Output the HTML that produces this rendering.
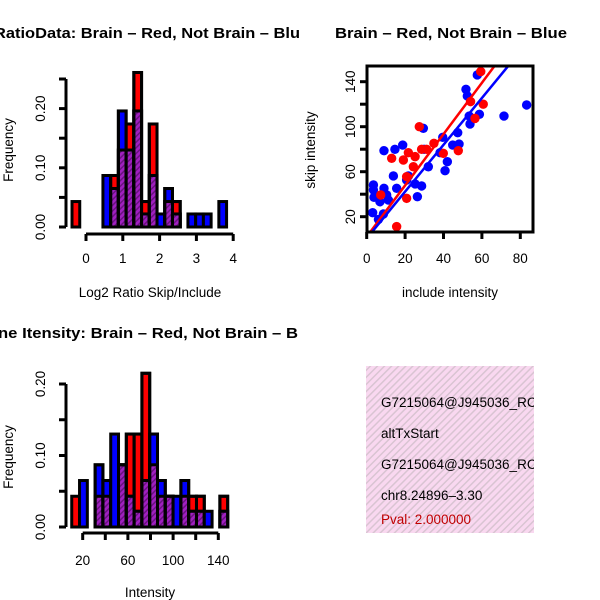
<!DOCTYPE html>
<html><head><meta charset="utf-8"><style>
html,body{margin:0;padding:0;background:#fff;}
svg{display:block;font-family:"Liberation Sans",Arial,sans-serif;}
</style></head><body>
<svg id="c" width="600" height="600" viewBox="0 0 600 600" xmlns="http://www.w3.org/2000/svg">
<defs>
<pattern id="hatch" width="4" height="4" patternUnits="userSpaceOnUse" patternTransform="rotate(45)">
<rect width="4" height="4" fill="#a020c0"/><rect width="1.5" height="4" fill="#6a1280"/>
</pattern>
<pattern id="pink" width="5" height="5" patternUnits="userSpaceOnUse" patternTransform="rotate(45)">
<rect width="5" height="5" fill="#f9d8f0"/><rect width="1.5" height="5" fill="#d9c4d2"/>
</pattern>
<clipPath id="scClip"><rect x="367" y="66" width="166" height="166"/></clipPath>
<clipPath id="boxClip"><rect x="366" y="366" width="168" height="167"/></clipPath>
</defs>
<g id="titles" font-weight="bold" font-size="15">
<text x="-6" y="38" textLength="306" lengthAdjust="spacingAndGlyphs">RatioData: Brain – Red, Not Brain – Blu</text>
<text x="335" y="38" textLength="232" lengthAdjust="spacingAndGlyphs">Brain – Red, Not Brain – Blue</text>
<text x="-2" y="338" textLength="300" lengthAdjust="spacingAndGlyphs">ne Itensity: Brain – Red, Not Brain – B</text>
</g>
<g font-size="13.5">
<text x="150" y="297" text-anchor="middle">Log2 Ratio Skip/Include</text>
<text transform="translate(13,150) rotate(-90)" text-anchor="middle">Frequency</text>
<text x="450" y="297" text-anchor="middle">include intensity</text>
<text transform="translate(315,150) rotate(-90)" text-anchor="middle">skip intensity</text>
<text x="150" y="597" text-anchor="middle">Intensity</text>
<text transform="translate(13,457) rotate(-90)" text-anchor="middle">Frequency</text>
</g>
<g id="h1"></g><g id="h2"></g><g id="sc"></g>
<g clip-path="url(#boxClip)" font-size="13.5">
<rect x="366" y="366" width="168" height="167" fill="url(#pink)"/>
<text x="381" y="407">G7215064@J945036_RC</text>
<text x="381" y="438">altTxStart</text>
<text x="381" y="469">G7215064@J945036_RC</text>
<text x="381" y="500">chr8.24896–3.30</text>
<text x="381" y="524" fill="#c00000">Pval: 2.000000</text>
</g>
</svg>
<script>
// ---- Histogram 1: log2 ratio ----
const ratioBinStart = -0.38;
const ratioBinWidth = 0.21;
const ratioRed  = [0.043,0,0,0,0,0.087,0.13,0.174,0.261,0.043,0.174,0,0.043,0.043,0,0,0,0,0,0];
const ratioBlue = [0,0,0,0,0.087,0.065,0.196,0.13,0.196,0.022,0.087,0.022,0.065,0.022,0,0.022,0.022,0.022,0,0.043];
const ratioXTicks = [0,1,2,3,4];
const ratioYTicks = [0,0.05,0.10,0.15,0.20,0.25];
const ratioYLabels = ["0.00","","0.10","","0.20",""];
// ---- Histogram 2: intensity ----
const intBinStart = 10.3;
const intBinWidth = 6.9;
const intRed  = [0.043,0,0,0.043,0.043,0,0.087,0.13,0.13,0.215,0.087,0.043,0.043,0,0.043,0.043,0.043,0,0,0.043];
const intBlue = [0,0.065,0,0.087,0.065,0.13,0.087,0.043,0.022,0.065,0.13,0.065,0.043,0.043,0.065,0.022,0.022,0.022,0,0.022];
const intXTicks = [20,40,60,80,100,120,140];
const intXLabels = ["20","","60","","100","","140"];
const intYTicks = [0,0.05,0.10,0.15,0.20];
const intYLabels = ["0.00","","0.10","","0.20"];
// ---- Scatter ----
const blueX = [57.6,51.7,52.4,83.3,71.5,58.7,53.4,53.8,47.4,29.5,39.6,44.8,48.1,38.2,29.9,18.75,14.7,9.0,42.0,40.8,32.1,28.6,25.2,21.7,13.9,15.6,9.0,3.5,3.5,3.8,10.4,11.3,6.9,26.4,20.8,3.1,8.7,6.1];
const blueY = [146,133.2,127.3,119.3,109.5,111,109.5,102.4,94.7,98.6,90.6,83.7,84.6,76.9,79.9,83.7,79.9,78.7,68.9,60.9,64.4,47.3,49.1,56.2,56.2,45.2,45.2,48.2,43.8,37.2,39.3,34.8,33.3,37.8,52.6,23.6,22.4,17.6];
const redX = [59.4,60.7,54.1,56.4,27.4,35.0,39.9,47.7,28.6,21.7,25.2,19.1,13.0,24.3,20.8,7.3,20.8,15.6,31.2];
const redY = [149,120,122.3,107.4,100,85.2,76.3,78.7,79.9,76.9,73.4,70.4,71.9,64.4,55.6,39.3,36.3,11.2,79.9];
const redFit = [2.2, 2.28];   // intercept, slope
const blueFit = [0.7, 2.08];
const scXTicks = [0,20,40,60,80];
const scYTicks = [20,40,60,80,100,120,140];
const scYLabels = ["20","","60","","100","","140"];

const NS="http://www.w3.org/2000/svg";
function mk(parent,tag,attrs){const e=document.createElementNS(NS,tag);for(const k in attrs)e.setAttribute(k,attrs[k]);parent.appendChild(e);return e;}

function hist(g, red, blue, x0, w, xs, ys, xTicks, xLabels, yTicks, yLabels, axY, xLabY, yAxX){
  for(let i=0;i<red.length;i++){
    const l=xs(x0+i*w), r=xs(x0+(i+1)*w);
    const rv=red[i], bv=blue[i], mn=Math.min(rv,bv);
    if(rv>0){const e=mk(g,'rect',{x:l,y:ys(rv),width:r-l,height:ys(0)-ys(rv),fill:'#ff0000',stroke:'#000','stroke-width':3});
      
      }
    if(bv>0){const e=mk(g,'rect',{x:l,y:ys(bv),width:r-l,height:ys(0)-ys(bv),fill:'#0000ff',stroke:'#000','stroke-width':3});
      
      }
    if(mn>0){const e=mk(g,'rect',{x:l,y:ys(mn),width:r-l,height:ys(0)-ys(mn),fill:'url(#hatch)',stroke:'#000','stroke-width':3});
      
      }
    if(rv>0&&bv>0){const top=Math.max(rv,bv);const e=mk(g,'rect',{x:l,y:ys(top),width:r-l,height:ys(0)-ys(top),fill:'none',stroke:'#000','stroke-width':3});
      
      }
  }
  const xa=mk(g,'line',{x1:xs(xTicks[0]),x2:xs(xTicks[xTicks.length-1]),y1:axY,y2:axY,stroke:'#000','stroke-width':3});
  
  
  xTicks.forEach((t,i)=>{mk(g,'line',{x1:xs(t),x2:xs(t),y1:axY,y2:axY+7,stroke:'#000','stroke-width':3});
    const tx=mk(g,'text',{x:xs(t),y:xLabY,'text-anchor':'middle','font-size':13.5});tx.textContent=xLabels[i];
    
    });
  const ya=mk(g,'line',{x1:yAxX,x2:yAxX,y1:ys(yTicks[0]),y2:ys(yTicks[yTicks.length-1]),stroke:'#000','stroke-width':3});
  
  
  yTicks.forEach((t,i)=>{mk(g,'line',{x1:yAxX-7,x2:yAxX,y1:ys(t),y2:ys(t),stroke:'#000','stroke-width':3});
    if(yLabels[i]){const tx=mk(g,'text',{transform:`translate(${yAxX-21},${ys(t)}) rotate(-90)`,'text-anchor':'middle','font-size':13.5});tx.textContent=yLabels[i];
    
    }});
}
const g1=document.getElementById('h1');


hist(g1,ratioRed,ratioBlue,ratioBinStart,ratioBinWidth,v=>86+v*36.8,v=>227-v*592,
  ratioXTicks,ratioXTicks.map(String),ratioYTicks,ratioYLabels,234,263,66);
const g2=document.getElementById('h2');


hist(g2,intRed,intBlue,intBinStart,intBinWidth,v=>82.7+(v-20)*1.13,v=>527-v*715,
  intXTicks,intXLabels,intYTicks,intYLabels,533,565,66);

// scatter
const sg=document.getElementById('sc');


const sx=v=>366.7+v*1.92, sy=v=>216.7-(v-20)*1.125;
const cg=mk(sg,'g',{'clip-path':'url(#scClip)'});
blueX.forEach((x,i)=>{const c=mk(cg,'circle',{cx:sx(x),cy:sy(blueY[i]),r:4.7,fill:'#0000ff'});
  
  });
redX.forEach((x,i)=>{const c=mk(cg,'circle',{cx:sx(x),cy:sy(redY[i]),r:4.7,fill:'#ff0000'});
  
  });
[[redFit,'#ff0000','red-fit-line'],[blueFit,'#0000ff','blue-fit-line']].forEach(([f,col,nm])=>{
  const l=mk(cg,'line',{x1:sx(-5),y1:sy(f[0]+f[1]*-5),x2:sx(90),y2:sy(f[0]+f[1]*90),stroke:col,'stroke-width':2.5});
  
  });
const box=mk(sg,'rect',{x:367,y:66,width:166,height:166,fill:'none',stroke:'#000','stroke-width':3});


scXTicks.forEach(t=>{mk(sg,'line',{x1:sx(t),x2:sx(t),y1:232,y2:239,stroke:'#000','stroke-width':3});
  const tx=mk(sg,'text',{x:sx(t),y:263,'text-anchor':'middle','font-size':13.5});tx.textContent=String(t);
  
  });
scYTicks.forEach((t,i)=>{mk(sg,'line',{x1:360,x2:367,y1:sy(t),y2:sy(t),stroke:'#000','stroke-width':3});
  if(scYLabels[i]){const tx=mk(sg,'text',{transform:`translate(355,${sy(t)}) rotate(-90)`,'text-anchor':'middle','font-size':13.5});tx.textContent=scYLabels[i];
  
  }});
</script>
</body></html>
